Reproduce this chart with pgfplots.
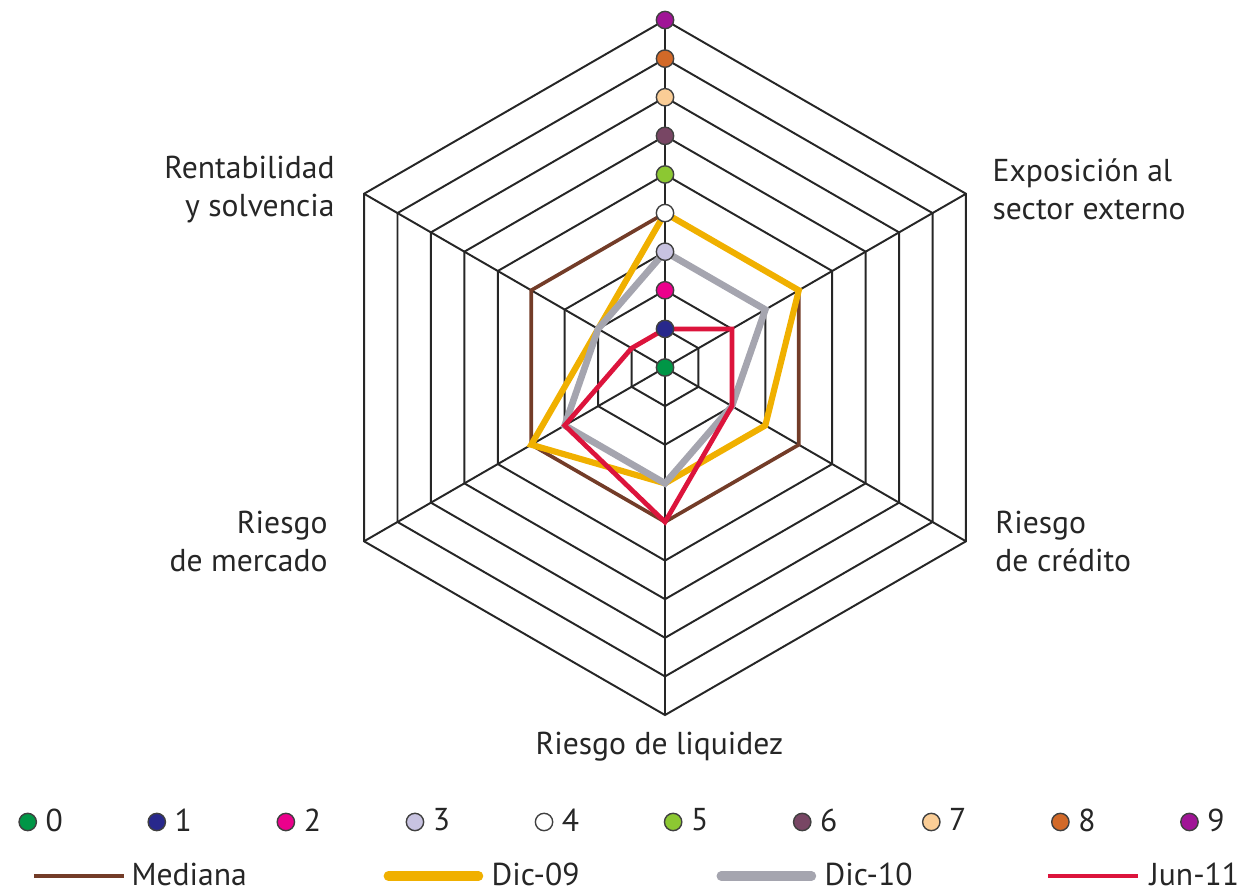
\documentclass[border=0pt]{standalone}
\usepackage{pgfplots}
\pgfplotsset{compat=1.18}
\usepgfplotslibrary{polar}
\usepackage{fontspec}
\setmainfont{PT Sans}

\definecolor{mediana}{RGB}{115,60,40}
\definecolor{dic09}{RGB}{240,176,0}
\definecolor{dic10}{RGB}{165,165,175}
\definecolor{jun11}{RGB}{220,20,60}
\definecolor{c0}{RGB}{0,150,70}
\definecolor{c1}{RGB}{40,40,140}
\definecolor{c2}{RGB}{235,0,140}
\definecolor{c3}{RGB}{200,195,225}
\definecolor{c4}{RGB}{255,255,255}
\definecolor{c5}{RGB}{140,200,50}
\definecolor{c6}{RGB}{120,70,100}
\definecolor{c7}{RGB}{250,205,150}
\definecolor{c8}{RGB}{210,105,40}
\definecolor{c9}{RGB}{160,20,150}

\pgfplotsset{
  grid hex/.style={black!85, line width=0.7pt},
  dot/.style={only marks, mark=*, mark size=3.1pt, mark options={draw=black!75, line width=0.5pt, fill=#1}},
}

\begin{document}
\begin{tikzpicture}[font=\fontsize{11.3}{13.6}\selectfont, text=black!85]
\path[use as bounding box] (-237.5pt,131.25pt) rectangle (205.7pt,-187.7pt);

\begin{polaraxis}[
  at={(0pt,0pt)}, anchor=center,
  width=248.2pt, height=248.2pt, scale only axis,
  hide axis, clip=false,
  xmin=0, xmax=360, ymin=0, ymax=9,
]
% rejilla hexagonal (niveles 1 a 9)
\addplot[grid hex] coordinates {(90,1)(30,1)(330,1)(270,1)(210,1)(150,1)(90,1)(30,1)};
\addplot[grid hex] coordinates {(90,2)(30,2)(330,2)(270,2)(210,2)(150,2)(90,2)(30,2)};
\addplot[grid hex] coordinates {(90,3)(30,3)(330,3)(270,3)(210,3)(150,3)(90,3)(30,3)};
\addplot[grid hex] coordinates {(90,4)(30,4)(330,4)(270,4)(210,4)(150,4)(90,4)(30,4)};
\addplot[grid hex] coordinates {(90,5)(30,5)(330,5)(270,5)(210,5)(150,5)(90,5)(30,5)};
\addplot[grid hex] coordinates {(90,6)(30,6)(330,6)(270,6)(210,6)(150,6)(90,6)(30,6)};
\addplot[grid hex] coordinates {(90,7)(30,7)(330,7)(270,7)(210,7)(150,7)(90,7)(30,7)};
\addplot[grid hex] coordinates {(90,8)(30,8)(330,8)(270,8)(210,8)(150,8)(90,8)(30,8)};
\addplot[grid hex] coordinates {(90,9)(30,9)(330,9)(270,9)(210,9)(150,9)(90,9)(30,9)};
% ejes radiales
\addplot[grid hex] coordinates {(90,9)(270,9)};
\addplot[grid hex] coordinates {(30,9)(210,9)};
\addplot[grid hex] coordinates {(150,9)(330,9)};

% series: arriba, sector externo, credito, liquidez, mercado, rentabilidad
\addplot[mediana, line width=1.3pt] coordinates {(90,4)(30,4)(330,4)(270,4)(210,4)(150,4)(90,4)(30,4)};
\addplot[dic09, line width=2.2pt] coordinates {(90,4)(30,4)(330,3)(270,3)(210,4)(150,2)(90,4)(30,4)};
\addplot[dic10, line width=2.4pt] coordinates {(90,3)(30,3)(330,2)(270,3)(210,3)(150,2)(90,3)(30,3)};
\addplot[jun11, line width=1.7pt] coordinates {(90,1)(30,2)(330,2)(270,4)(210,3)(150,1)(90,1)(30,2)};

% escala 0-9
\addplot[dot=c0] coordinates {(90,0)};
\addplot[dot=c1] coordinates {(90,1)};
\addplot[dot=c2] coordinates {(90,2)};
\addplot[dot=c3] coordinates {(90,3)};
\addplot[dot=c4] coordinates {(90,4)};
\addplot[dot=c5] coordinates {(90,5)};
\addplot[dot=c6] coordinates {(90,6)};
\addplot[dot=c7] coordinates {(90,7)};
\addplot[dot=c8] coordinates {(90,8)};
\addplot[dot=c9] coordinates {(90,9)};

\node[anchor=east, align=right, xshift=-7pt, yshift=1.5pt] at (axis cs:150,9) {Rentabilidad\\y solvencia};
\node[anchor=west, align=left, xshift=6pt, yshift=1.5pt] at (axis cs:30,9) {Exposición al\\sector externo};
\node[anchor=west, align=left, xshift=7pt] at (axis cs:330,9) {Riesgo\\de crédito};
\node[anchor=east, align=right, xshift=-9.5pt] at (axis cs:210,9) {Riesgo\\de mercado};
\node[anchor=north, inner sep=0pt, yshift=-6pt, xshift=-2pt] at (axis cs:270,9) {Riesgo de liquidez};
\end{polaraxis}

% leyenda, fila 1: escala
\begin{axis}[
  at={(-230.9pt,-162.3pt)}, anchor=west,
  width=10pt, height=10pt, scale only axis, hide axis,
  xmin=0, xmax=1, ymin=0, ymax=1,
  legend columns=10,
  legend style={at={(0,0.5)}, anchor=west, draw=none, fill=none,
    inner sep=0pt, column sep=0pt, nodes={inner sep=0pt},
    font=\fontsize{11.3}{13.6}\selectfont},
  legend image code/.code={\path[draw=none, fill=none] (0pt,-3pt) rectangle (6pt,3pt); \draw[#1] plot coordinates {(3pt,0pt)};},
]
\addlegendimage{dot=c0}\addlegendentry{\makebox[39.9pt][l]{\hspace{3.3pt}0}}
\addlegendimage{dot=c1}\addlegendentry{\makebox[39.9pt][l]{\hspace{3.3pt}1}}
\addlegendimage{dot=c2}\addlegendentry{\makebox[39.9pt][l]{\hspace{3.3pt}2}}
\addlegendimage{dot=c3}\addlegendentry{\makebox[39.9pt][l]{\hspace{3.3pt}3}}
\addlegendimage{dot=c4}\addlegendentry{\makebox[39.9pt][l]{\hspace{3.3pt}4}}
\addlegendimage{dot=c5}\addlegendentry{\makebox[39.9pt][l]{\hspace{3.3pt}5}}
\addlegendimage{dot=c6}\addlegendentry{\makebox[39.9pt][l]{\hspace{3.3pt}6}}
\addlegendimage{dot=c7}\addlegendentry{\makebox[39.9pt][l]{\hspace{3.3pt}7}}
\addlegendimage{dot=c8}\addlegendentry{\makebox[39.9pt][l]{\hspace{3.3pt}8}}
\addlegendimage{dot=c9}\addlegendentry{\makebox[12pt][l]{\hspace{3.3pt}9}}
\end{axis}

% leyenda, fila 2: series
\begin{axis}[
  at={(-226.8pt,-181.6pt)}, anchor=west,
  width=10pt, height=10pt, scale only axis, hide axis,
  xmin=0, xmax=1, ymin=0, ymax=1,
  legend columns=4,
  legend style={at={(0,0.5)}, anchor=west, draw=none, fill=none,
    inner sep=0pt, column sep=0pt, nodes={inner sep=0pt},
    font=\fontsize{11.3}{13.6}\selectfont},
  legend image code/.code={\path[draw=none, fill=none] (0pt,-3pt) rectangle (34.6pt,3pt); \draw[#1] (1.2pt,0pt) -- (33.4pt,0pt);},
]
\addlegendimage{mediana, line width=1.1pt}\addlegendentry{\makebox[91.5pt][l]{\hspace{1.5pt}Mediana}}
\addlegendimage{dic09, line width=3.4pt, line cap=round}\addlegendentry{\makebox[83.3pt][l]{\hspace{3pt}Dic-09}}
\addlegendimage{dic10, line width=3.4pt, line cap=round}\addlegendentry{\makebox[81.5pt][l]{\hspace{3pt}Dic-10}}
\addlegendimage{jun11, line width=1.4pt}\addlegendentry{\makebox[30pt][l]{\hspace{3pt}Jun-11}}
\end{axis}
\end{tikzpicture}
\end{document}
